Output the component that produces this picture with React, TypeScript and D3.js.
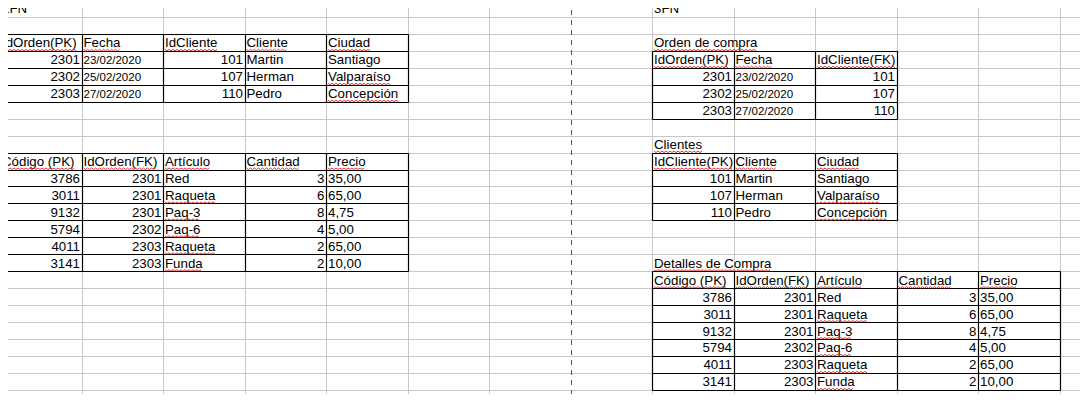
import React, { useEffect, useRef } from "react";
import * as d3 from "d3";

const W = 1088;
const H = 402;
const COL_W = 81.5;
const ROW_H = 16.95;

// table data
const ordenHeaders = ["IdOrden(PK)", "Fecha", "IdCliente", "Cliente", "Ciudad"];
const ordenIds = [2301, 2302, 2303];
const fechas = ["23/02/2020", "25/02/2020", "27/02/2020"];
const clienteIds = [101, 107, 110];
const clientes = ["Martin", "Herman", "Pedro"];
const ciudades = ["Santiago", "Valparaíso", "Concepción"];

const ordenHeaders3 = ["IdOrden(PK)", "Fecha", "IdCliente(FK)"];
const clienteHeaders3 = ["IdCliente(PK)", "Cliente", "Ciudad"];

const detalleHeaders = ["Código (PK)", "IdOrden(FK)", "Artículo", "Cantidad", "Precio"];
const codigos = [3786, 3011, 9132, 5794, 4011, 3141];
const detalleOrden = [2301, 2301, 2301, 2302, 2303, 2303];
const articulos = ["Red", "Raqueta", "Paq-3", "Paq-6", "Raqueta", "Funda"];
const cantidades = [3, 6, 8, 4, 2, 2];
const precios = ["35,00", "65,00", "4,75", "5,00", "65,00", "10,00"];

// words the spell checker flags
const flagged = new Set([
  "IdOrden(PK)", "Fecha", "IdCliente", "Cliente", "Ciudad", "Valparaíso", "Concepción",
  "IdCliente(FK)", "IdCliente(PK)", "Código (PK)", "IdOrden(FK)", "Artículo", "Cantidad",
  "Precio", "Raqueta", "Paq-3", "Paq-6", "Funda", "Orden de compra", "Clientes", "Detalles de Compra",
]);

type Cell = { v: string | number; small?: boolean };
type Table = { col: number; row: number; rows: Cell[][] };

const ordenTable: Table = {
  col: 0,
  row: 2,
  rows: [
    ordenHeaders.map((v) => ({ v })),
    ...ordenIds.map((id, i) => [
      { v: id }, { v: fechas[i], small: true }, { v: clienteIds[i] }, { v: clientes[i] }, { v: ciudades[i] },
    ]),
  ],
};
const detalleRows = (): Cell[][] => [
  detalleHeaders.map((v) => ({ v })),
  ...codigos.map((c, i) => [
    { v: c }, { v: detalleOrden[i] }, { v: articulos[i] }, { v: cantidades[i] }, { v: precios[i] },
  ]),
];
const tables: Table[] = [
  ordenTable,
  { col: 0, row: 9, rows: detalleRows() },
  {
    col: 8,
    row: 3,
    rows: [
      ordenHeaders3.map((v) => ({ v })),
      ...ordenIds.map((id, i) => [{ v: id }, { v: fechas[i], small: true }, { v: clienteIds[i] }]),
    ],
  },
  {
    col: 8,
    row: 9,
    rows: [
      clienteHeaders3.map((v) => ({ v })),
      ...clienteIds.map((id, i) => [{ v: id }, { v: clientes[i] }, { v: ciudades[i] }]),
    ],
  },
  { col: 8, row: 16, rows: detalleRows() },
];
const labels = [
  { text: "2FN", col: 0, row: 0 },
  { text: "3FN", col: 8, row: 0 },
  { text: "Orden de compra", col: 8, row: 2 },
  { text: "Clientes", col: 8, row: 8 },
  { text: "Detalles de Compra", col: 8, row: 15 },
];

const App: React.FC = () => {
  const ref = useRef<SVGSVGElement | null>(null);

  useEffect(() => {
    if (!ref.current) return;
    const svg = d3.select(ref.current);
    svg.selectAll("*").remove();

    const nCols = Math.ceil(W / COL_W);
    const nRows = Math.ceil(H / ROW_H);
    const x = d3.scaleLinear().domain([0, 1]).range([0, COL_W]);
    const y = d3.scaleLinear().domain([0, 1]).range([0, ROW_H]);

    const grid = svg.append("g").attr("stroke", "#c8c8c8").attr("stroke-width", 1);
    d3.range(1, nCols + 1).forEach((c) => {
      if (c === 7) return;
      grid.append("line").attr("x1", Math.round(x(c)) + 0.5).attr("x2", Math.round(x(c)) + 0.5).attr("y1", 0).attr("y2", H);
    });
    d3.range(1, nRows + 1).forEach((r) => {
      grid.append("line").attr("y1", Math.round(y(r)) + 0.5).attr("y2", Math.round(y(r)) + 0.5).attr("x1", 0).attr("x2", W);
    });
    svg.append("line")
      .attr("x1", Math.round(x(7)) + 0.5).attr("x2", Math.round(x(7)) + 0.5)
      .attr("y1", 0).attr("y2", H)
      .attr("stroke", "#555").attr("stroke-dasharray", "5,5");

    const textG = svg.append("g").attr("font-family", "Liberation Sans, Arial, sans-serif").attr("fill", "#000");

    const squiggle = (x0: number, w: number, yb: number) => {
      const pts: [number, number][] = [];
      for (let px = 0; px <= w; px += 2) pts.push([x0 + px, yb + ((px / 2) % 2 === 0 ? 0 : 1.5)]);
      svg.append("path")
        .attr("d", d3.line()(pts))
        .attr("fill", "none")
        .attr("stroke", "#e02020")
        .attr("stroke-width", 0.9);
    };

    const putText = (text: string, xPos: number, rowTop: number, anchor: "start" | "end", small = false) => {
      const t = textG.append("text")
        .attr("x", xPos)
        .attr("y", rowTop + ROW_H - 3.5)
        .attr("text-anchor", anchor)
        .attr("font-size", small ? 11.5 : 13.3)
        .text(text);
      if (flagged.has(text)) {
        const w = (t.node() as SVGTextElement).getComputedTextLength();
        squiggle(anchor === "start" ? xPos : xPos - w, w, rowTop + ROW_H - 1.5);
      }
    };

    labels.forEach((l) => putText(l.text, x(l.col) + 2, y(l.row), "start"));

    tables.forEach((tb) => {
      const nc = tb.rows[0].length;
      const border = svg.append("g").attr("stroke", "#000").attr("stroke-width", 1.2);
      d3.range(tb.rows.length + 1).forEach((r) => {
        const yy = Math.round(y(tb.row + r)) + 0.5;
        border.append("line").attr("x1", Math.round(x(tb.col)) + 0.5).attr("x2", Math.round(x(tb.col + nc)) + 0.5).attr("y1", yy).attr("y2", yy);
      });
      d3.range(nc + 1).forEach((c) => {
        const xx = Math.round(x(tb.col + c)) + 0.5;
        border.append("line").attr("x1", xx).attr("x2", xx).attr("y1", Math.round(y(tb.row)) + 0.5).attr("y2", Math.round(y(tb.row + tb.rows.length)) + 0.5);
      });
      tb.rows.forEach((cells, r) => {
        cells.forEach((cell, c) => {
          const top = y(tb.row + r);
          if (typeof cell.v === "number") {
            putText(String(cell.v), x(tb.col + c + 1) - 1.5, top, "end");
          } else {
            putText(cell.v, x(tb.col + c) + 2, top, "start", cell.small);
          }
        });
      });
    });
  }, []);

  return <svg ref={ref} width={W} height={H} style={{ display: "block", background: "#fff", margin: -8 }} />;
};

export default App;
